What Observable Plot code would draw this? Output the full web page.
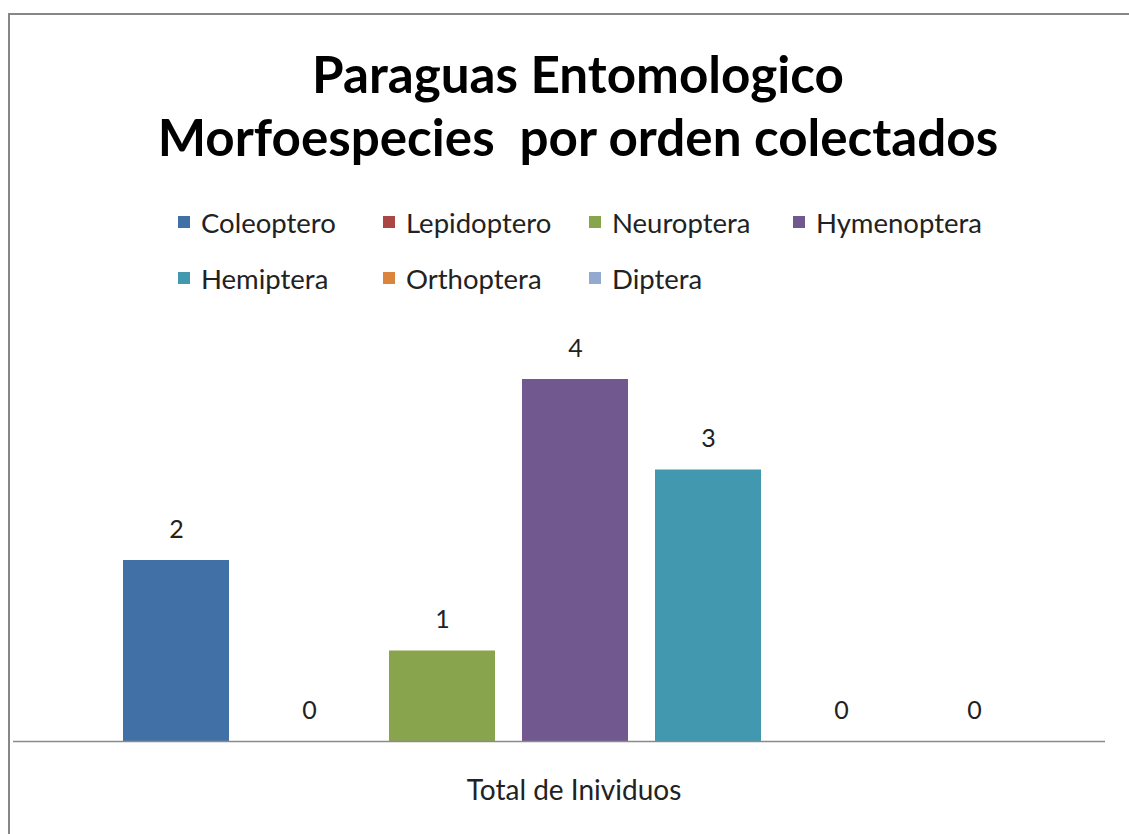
<!DOCTYPE html>
<html><head><meta charset="utf-8">
<script src="https://cdn.jsdelivr.net/npm/d3@7"></script>
<script src="https://cdn.jsdelivr.net/npm/@observablehq/plot@0.6"></script>
<style>
body{margin:0;background:#fff;font-family:Lato,"Open Sans",sans-serif;}
#wrap{position:relative;width:1129px;height:834px;overflow:hidden;background:#fff;}
#border{position:absolute;left:8px;top:13px;width:1140px;height:840px;border:2px solid #878787;box-sizing:border-box;}
#title{position:absolute;left:0;top:42px;width:1156px;text-align:center;font-weight:700;font-size:51.2px;line-height:63px;color:#000;}
.leg{position:absolute;font-size:27.5px;color:#222;display:flex;align-items:center;white-space:nowrap;}
.sw{width:12px;height:12px;margin-right:11px;}
#xlabel{position:absolute;top:772px;left:0;width:1148px;text-align:center;font-size:28px;color:#222;}
#chart{position:absolute;left:0;top:0;}
</style></head>
<body><div id="wrap"><div id="border"></div>
<div id="title">Paraguas Entomologico<br>Morfoespecies&nbsp; por orden colectados</div>
<div id="legend"></div>
<div id="chart"></div>
<div id="xlabel">Total de Inividuos</div>
</div>
<script>
const categories = ["Coleoptero","Lepidoptero","Neuroptera","Hymenoptera","Hemiptera","Orthoptera","Diptera"];
const values = [2,0,1,4,3,0,0];
const colors = ["#4170A6","#AA4643","#88A44C","#71588F","#4198AF","#DB843D","#93A9CF"];
const xTitle = "Total de Inividuos";

const data = categories.map((c,i)=>({order:c, value:values[i]}));

// legend (HTML)
const legCols = [178,383,589,793];
const legRows = [222,278];
const leg = document.getElementById("legend");
categories.forEach((c,i)=>{
  const d = document.createElement("div");
  d.className = "leg";
  const col = i<4 ? i : i-4, row = i<4 ? 0 : 1;
  d.style.left = legCols[col]+"px";
  d.style.top = (legRows[row]-16)+"px";
  d.style.height = "32px";
  d.innerHTML = `<span class="sw" style="background:${colors[i]}"></span><span>${c}</span>`;
  leg.appendChild(d);
});

const plot = Plot.plot({
  width:1129, height:834,
  marginLeft:13, marginRight:24, marginTop:379, marginBottom:93,
  x:{domain:categories, axis:null, paddingInner:0.206, paddingOuter:0.103, insetLeft:94, insetRight:63},
  y:{domain:[0,4], axis:null},
  color:{domain:categories, range:colors},
  style:{fontFamily:"Lato, 'Open Sans', sans-serif", background:"transparent"},
  marks:[
    Plot.barY(data,{x:"order", y:"value", fill:"order"}),
    Plot.ruleY([0],{stroke:"#8a8a8a", strokeWidth:1.5}),
    Plot.text(data,{x:"order", y:"value", text:d=>String(d.value), dy:-31, fontSize:25, fill:"#222"})
  ]
});
document.getElementById("chart").appendChild(plot);
</script>
</body></html>
